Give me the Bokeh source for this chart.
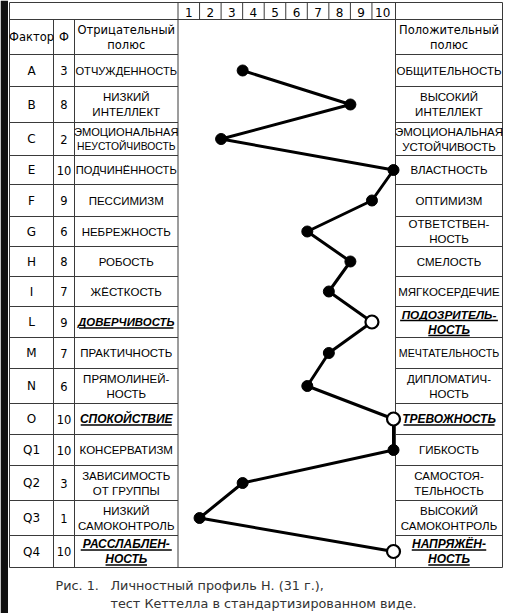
from bokeh.plotting import figure
from bokeh.models import Range1d, ColumnDataSource
from bokeh.core.properties import value, field
from bokeh.embed import file_html
from bokeh.resources import INLINE

# ---------------- data ----------------
factors = ["A", "B", "C", "E", "F", "G", "H", "I", "L", "M", "N", "O", "Q1", "Q2", "Q3", "Q4"]
scores = [3, 8, 2, 10, 9, 6, 8, 7, 9, 7, 6, 10, 10, 3, 1, 10]
negative_poles = ["ОТЧУЖДЕННОСТЬ", "НИЗКИЙ\nИНТЕЛЛЕКТ", "ЭМОЦИОНАЛЬНАЯ\nНЕУСТОЙЧИВОСТЬ",
                  "ПОДЧИНЁННОСТЬ", "ПЕССИМИЗМ", "НЕБРЕЖНОСТЬ", "РОБОСТЬ", "ЖЁСТКОСТЬ",
                  "ДОВЕРЧИВОСТЬ", "ПРАКТИЧНОСТЬ", "ПРЯМОЛИНЕЙ-\nНОСТЬ", "СПОКОЙСТВИЕ",
                  "КОНСЕРВАТИЗМ", "ЗАВИСИМОСТЬ\nОТ ГРУППЫ", "НИЗКИЙ\nСАМОКОНТРОЛЬ",
                  "РАССЛАБЛЕН-\nНОСТЬ"]
positive_poles = ["ОБЩИТЕЛЬНОСТЬ", "ВЫСОКИЙ\nИНТЕЛЛЕКТ", "ЭМОЦИОНАЛЬНАЯ\nУСТОЙЧИВОСТЬ",
                  "ВЛАСТНОСТЬ", "ОПТИМИЗМ", "ОТВЕТСТВЕН-\nНОСТЬ", "СМЕЛОСТЬ", "МЯГКОСЕРДЕЧИЕ",
                  "ПОДОЗРИТЕЛЬ-\nНОСТЬ", "МЕЧТАТЕЛЬНОСТЬ", "ДИПЛОМАТИЧ-\nНОСТЬ", "ТРЕВОЖНОСТЬ",
                  "ГИБКОСТЬ", "САМОСТОЯ-\nТЕЛЬНОСТЬ", "ВЫСОКИЙ\nСАМОКОНТРОЛЬ", "НАПРЯЖЁН-\nНОСТЬ"]
emphasized = ["L", "O", "Q4"]
scale_ticks = ["1", "2", "3", "4", "5", "6", "7", "8", "9", "10"]
header_factor = "Фактор"
header_score = "Ф"
header_negative = "Отрицательный\nполюс"
header_positive = "Положительный\nполюс"
caption_label = "Рис. 1."
caption_lines = ["Личностный профиль Н. (31 г.),", "тест Кеттелла в стандартизированном виде."]

# ---------------- layout (reference pixel coordinates) ----------------
X_LEFT, X_F, X_PHI, X_CHART, X_POS, X_RIGHT = 9, 53, 74, 177.5, 395, 502
Y_TOP, Y_HEAD = 2, 19
Y_ROWS = [54, 86, 122, 155, 184, 216, 246, 276, 306, 337, 368, 403, 434, 465, 500, 535, 567]
SCORE0_PX, SCORE_UNIT_PX = 177.5, 21.55
W, H = 507, 613
VIEW_X0, VIEW_X1 = 0, W
VIEW_Y0, VIEW_Y1 = 0, H
LINE_GAP = 15
GRID = "#3a3a3a"

p = figure(width=W, height=H, output_backend="svg", toolbar_location=None,
           x_range=Range1d(VIEW_X0, VIEW_X1), y_range=Range1d(VIEW_Y1, VIEW_Y0),
           min_border=0, x_axis_location=None, y_axis_location=None)
p.extra_x_ranges = {"score": Range1d((VIEW_X0 - SCORE0_PX) / SCORE_UNIT_PX,
                                     (VIEW_X1 - SCORE0_PX) / SCORE_UNIT_PX)}
p.grid.visible = False
p.outline_line_color = None
p.background_fill_color = "white"
p.border_fill_color = "white"

# dark strip along the left edge of the scan
p.quad(left=[0], right=[7.5], bottom=[VIEW_Y1], top=[VIEW_Y0], fill_color="#111111",
       line_color=None)

# ---------------- table grid ----------------
hx0, hx1, hy0, hy1 = [], [], [], []
def hseg(x0, x1, y):
    hx0.append(x0); hx1.append(x1); hy0.append(y); hy1.append(y)
def vseg(x, y0, y1):
    hx0.append(x); hx1.append(x); hy0.append(y0); hy1.append(y1)

hseg(X_LEFT, X_RIGHT, Y_TOP)
hseg(X_LEFT, X_RIGHT, Y_HEAD)
for y in Y_ROWS[:-1]:
    hseg(X_LEFT, X_CHART, y)
    hseg(X_POS, X_RIGHT, y)
hseg(X_LEFT, X_RIGHT, Y_ROWS[-1])
for x in (X_LEFT, X_CHART, X_POS, X_RIGHT):
    vseg(x, Y_TOP, Y_ROWS[-1])
for x in (X_F, X_PHI):
    vseg(x, Y_HEAD, Y_ROWS[-1])
p.segment(x0=hx0, x1=hx1, y0=hy0, y1=hy1, line_color=GRID, line_width=1)

# scale header cells (score coordinates)
tick_vals = list(range(1, len(scale_ticks)))
p.segment(x0=tick_vals, x1=tick_vals, y0=[Y_TOP] * len(tick_vals), y1=[Y_HEAD] * len(tick_vals),
          x_range_name="score", line_color=GRID, line_width=1)
p.text(x=[i + 0.5 for i in range(len(scale_ticks))], y=[(Y_TOP + Y_HEAD) / 2 + 1] * len(scale_ticks),
       text=scale_ticks, x_range_name="score", text_align="center", text_baseline="middle",
       text_font=value("DejaVu Sans"), text_font_size="12px", text_color="black")

# ---------------- text helpers ----------------
row_centers = [(a + b) / 2 for a, b in zip(Y_ROWS[:-1], Y_ROWS[1:])]

def stacked(label, xc, yc):
    lines = label.split("\n")
    n = len(lines)
    return [(ln, xc, yc + (i - (n - 1) / 2) * LINE_GAP) for i, ln in enumerate(lines)]

def fit_size(txt, avail, base=11.5, em=0.68):
    return min(base, avail / (em * max(len(txt), 1)))

# header row 2
hdr = {"x": [], "y": [], "t": []}
for t, xc in ((header_factor, (X_LEFT + X_F) / 2), (header_score, (X_F + X_PHI) / 2)):
    hdr["x"].append(xc); hdr["y"].append((Y_HEAD + Y_ROWS[0]) / 2); hdr["t"].append(t)
for lab, xc in ((header_negative, (X_PHI + X_CHART) / 2), (header_positive, (X_POS + X_RIGHT) / 2)):
    for ln, x, y in stacked(lab, xc, (Y_HEAD + Y_ROWS[0]) / 2):
        hdr["x"].append(x); hdr["y"].append(y); hdr["t"].append(ln)
p.text(x="x", y="y", text="t", source=ColumnDataSource(hdr), text_align="center",
       text_baseline="middle", text_font=value("DejaVu Sans"), text_font_size="11.5px",
       text_color="black")

# factor letters and scores
p.text(x=[(X_LEFT + X_F) / 2] * len(factors), y=row_centers, text=factors, text_align="center",
       text_baseline="middle", text_font=value("DejaVu Sans"), text_font_size="12px",
       text_color="black")
p.text(x=[(X_F + X_PHI) / 2] * len(scores), y=row_centers, text=[str(s) for s in scores],
       text_align="center", text_baseline="middle", text_font=value("DejaVu Sans"),
       text_font_size="11.5px", text_color="black")

# pole labels
norm = {"x": [], "y": [], "t": [], "s": []}
emph = {"x": [], "y": [], "t": [], "s": []}
ul = {"x0": [], "x1": [], "y": []}
for f, yc, neg, pos in zip(factors, row_centers, negative_poles, positive_poles):
    for lab, xl, xr in ((neg, X_PHI, X_CHART), (pos, X_POS, X_RIGHT)):
        xc = (xl + xr) / 2
        avail = xr - xl - 5
        for ln, x, y in stacked(lab, xc, yc):
            if f in emphasized:
                size = fit_size(ln, avail, base=12.0, em=0.72)
                emph["x"].append(x); emph["y"].append(y); emph["t"].append(ln)
                emph["s"].append(f"{size:.2f}px")
                w = 0.69 * size * len(ln)
                ul["x0"].append(x - w / 2); ul["x1"].append(x + w / 2); ul["y"].append(y + 6)
            else:
                norm["x"].append(x); norm["y"].append(y); norm["t"].append(ln)
                norm["s"].append(f"{fit_size(ln, avail):.2f}px")
p.text(x="x", y="y", text="t", source=ColumnDataSource(norm), text_align="center",
       text_baseline="middle", text_font=value("Liberation Sans"), text_font_size=field("s"),
       text_color="black")
p.text(x="x", y="y", text="t", source=ColumnDataSource(emph), text_align="center",
       text_baseline="middle", text_font=value("Liberation Sans"), text_font_size=field("s"),
       text_font_style="bold italic", text_color="black")
p.segment(x0="x0", x1="x1", y0="y", y1="y", source=ColumnDataSource(ul),
          line_color="black", line_width=1.5)

# ---------------- profile line ----------------
p.line(x=scores, y=row_centers, x_range_name="score", line_color="black", line_width=3)
filled = ColumnDataSource({"x": [s for f, s in zip(factors, scores) if f not in emphasized],
                           "y": [y for f, y in zip(factors, row_centers) if f not in emphasized]})
hollow = ColumnDataSource({"x": [s for f, s in zip(factors, scores) if f in emphasized],
                           "y": [y for f, y in zip(factors, row_centers) if f in emphasized]})
p.scatter(x="x", y="y", source=filled, x_range_name="score", marker="circle", size=11,
          fill_color="black", line_color="black")
p.scatter(x="x", y="y", source=hollow, x_range_name="score", marker="circle", size=13,
          fill_color="white", line_color="black", line_width=2.2)

# ---------------- caption ----------------
p.text(x=[55], y=[585], text=[caption_label], text_align="left", text_baseline="middle",
       text_font=value("DejaVu Sans"), text_font_size="12.8px", text_color="#333333")
p.text(x=[110, 110], y=[585, 603], text=caption_lines, text_align="left", text_baseline="middle",
       text_font=value("DejaVu Sans"), text_font_size="12.8px", text_color="#333333")

open("out.html", "w").write(file_html(p, INLINE))
